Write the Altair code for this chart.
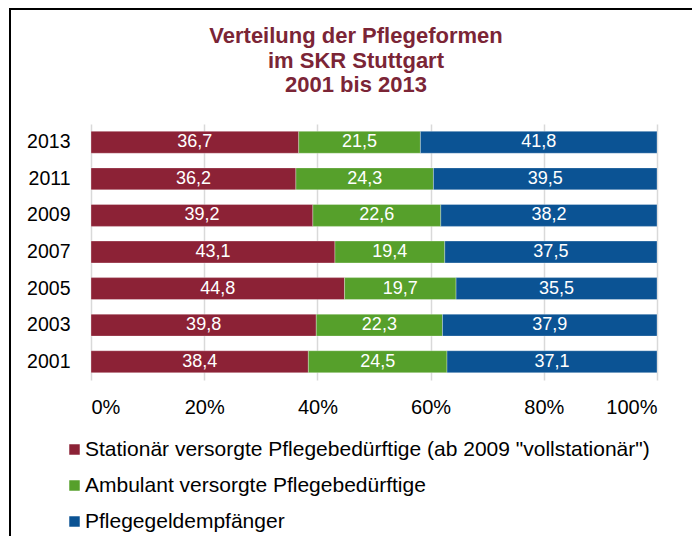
import altair as alt
import pandas as pd

years = ["2013", "2011", "2009", "2007", "2005", "2003", "2001"]
stationaer = [36.7, 36.2, 39.2, 43.1, 44.8, 39.8, 38.4]
ambulant = [21.5, 24.3, 22.6, 19.4, 19.7, 22.3, 24.5]
pflegegeld = [41.8, 39.5, 38.2, 37.5, 35.5, 37.9, 37.1]
series = [
    'Stationär versorgte Pflegebedürftige (ab 2009 "vollstationär")',
    "Ambulant versorgte Pflegebedürftige",
    "Pflegegeldempfänger",
]
colors = ["#8C2236", "#56A02B", "#0B5394"]
x_ticks = [0, 0.2, 0.4, 0.6, 0.8, 1.0]
title_lines = ["Verteilung der Pflegeformen", "im SKR Stuttgart", "2001 bis 2013"]

rows = []
for i, y in enumerate(years):
    for k, vals in enumerate([stationaer, ambulant, pflegegeld]):
        rows.append({"year": y, "series": series[k], "order": k, "value": vals[i]})
df = pd.DataFrame(rows)

FONT = "Liberation Sans"

base = alt.Chart(df).transform_stack(
    stack="value", groupby=["year"], as_=["x0", "x1"], offset="normalize",
    sort=[alt.SortField("order", order="ascending")]
).transform_calculate(
    mid="(datum.x0 + datum.x1) / 2",
    lbl="replace(format(datum.value, '.1f'), '.', ',')"
)

yenc = alt.Y("year:N", sort=years, title=None,
             scale=alt.Scale(paddingInner=0.4, paddingOuter=0.2),
             axis=alt.Axis(labelFontSize=19.5, labelColor="#000000", labelFont=FONT,
                           ticks=False, domain=False, labelPadding=21))

bars = base.mark_bar(stroke="#ffffff", strokeWidth=0.5, strokeOpacity=0.6).encode(
    x=alt.X("x0:Q", title=None,
            scale=alt.Scale(domain=[0, 1], nice=False),
            axis=alt.Axis(values=x_ticks, format=".0%", labelFontSize=20,
                          labelColor="#000000", labelFont=FONT, ticks=False,
                          domain=False, grid=True, gridColor="#D9D9D9",
                          gridWidth=1.5, labelPadding=17)),
    x2="x1:Q",
    y=yenc,
    color=alt.Color("series:N", sort=series,
                    scale=alt.Scale(domain=series, range=colors),
                    legend=alt.Legend(orient="none", legendX=-27, legendY=315,
                                      title=None, direction="vertical",
                                      symbolType="square", symbolSize=110,
                                      symbolStrokeWidth=0, labelFontSize=21,
                                      labelFont=FONT, labelColor="#000000",
                                      rowPadding=14, labelOffset=0, padding=0,
                                      labelLimit=700)),
    order=alt.Order("order:Q"),
)

texts = base.mark_text(color="#ffffff", fontSize=18, font=FONT).encode(
    x=alt.X("mid:Q"),
    y=alt.Y("year:N", sort=years),
    text="lbl:N",
)

frame_data = alt.Data(values=[{"a": 1}])
left_line = alt.Chart(frame_data).mark_rule(color="#000000", strokeWidth=2).encode(
    x=alt.value(-81), y=alt.value(-116), y2=alt.value(412))
top_line = alt.Chart(frame_data).mark_rule(color="#000000", strokeWidth=2).encode(
    x=alt.value(-82), x2=alt.value(601), y=alt.value(-115))

title = alt.Chart(frame_data).mark_text(
    fontSize=22, font=FONT, fontWeight="bold", color="#7B2536",
    lineHeight=24.5, align="center", baseline="alphabetic"
).encode(x=alt.value(265), y=alt.value(-81), text=alt.value(title_lines))

chart = alt.layer(bars, texts, left_line, top_line, title).properties(
    width=566, height=256,
    padding={"left": 83, "top": 116, "right": 35, "bottom": 156},
    autosize=alt.AutoSizeParams(type="none"),
).configure_view(stroke=None)

chart.save("out.html", embed_options={"renderer": "svg", "actions": False})
